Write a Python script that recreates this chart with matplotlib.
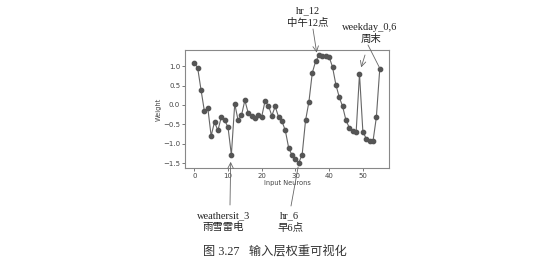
import matplotlib
matplotlib.use("Agg")
import matplotlib.pyplot as plt
import numpy as np

weights = [1.09, 0.96, 0.39, -0.16, -0.07, -0.80, -0.44, -0.66, -0.32, -0.40,
           -0.57, -1.29, 0.03, -0.40, -0.27, 0.12, -0.21, -0.28, -0.33, -0.25,
           -0.30, 0.10, -0.02, -0.28, -0.04, -0.31, -0.42, -0.66, -1.11, -1.30,
           -1.40, -1.49, -1.28, -0.40, 0.08, 0.83, 1.13, 1.28, 1.27, 1.26,
           1.24, 0.98, 0.52, 0.20, -0.04, -0.40, -0.59, -0.67, -0.71, 0.80,
           -0.69, -0.87, -0.94, -0.94, -0.32, 0.92]
neurons = np.arange(len(weights))
xticks = [0, 10, 20, 30, 40, 50]
yticks = [-1.5, -1.0, -0.5, 0.0, 0.5, 1.0]

W, H = 550, 265
fig = plt.figure(figsize=(W / 100, H / 100), dpi=100)
ax = fig.add_axes([185 / W, 1 - 168 / H, (389 - 185) / W, (168 - 50) / H])
ax.plot(neurons, weights, color='#666666', lw=0.8, marker='o', ms=3.1,
        markerfacecolor='#555555', markeredgecolor='#555555')
ax.set_xticks(xticks)
ax.set_yticks(yticks)
ax.tick_params(labelsize=5, length=2, width=0.5, colors='#444444', pad=1.5)
ax.set_xlabel('Input Neurons', fontsize=4.8, color='#444444', labelpad=1)
ax.set_ylabel('Weight', fontsize=4.8, color='#444444', labelpad=1)
for s in ax.spines.values():
    s.set_color('#888888')
    s.set_linewidth(0.8)

tfam = ['Liberation Serif', 'Noto Sans CJK SC']
tc = '#222222'
ac = '#666666'

def txt(x, y, s, size=7.5):
    fig.text(x / W, 1 - y / H, s, ha='center', va='center', fontsize=size,
             family=tfam, color=tc)

def arr(xy, xytext, style='->'):
    ax.annotate('', xy=xy, xycoords='data',
                xytext=(xytext[0], H - xytext[1]), textcoords='figure pixels',
                arrowprops=dict(arrowstyle=style, color=ac, lw=0.6,
                                shrinkA=0, shrinkB=0),
                annotation_clip=False)

txt(308, 11, 'hr_12')
txt(308, 23, '中午12点')
arr((36.3, 1.35), (313, 29))

txt(370, 27, 'weekday_0,6')
txt(371, 39, '周末')
arr((49.5, 0.97), (365, 55))
arr((55, 0.95), (368, 45), style='-')

txt(224, 216, 'weathersit_3')
txt(223, 227, '雨雪雷电')
arr((10.8, -1.47), (230, 205))

txt(290, 216, 'hr_6')
txt(290, 228, '早6点')
arr((30.8, -1.6), (291, 206), style='-')

fig.text(275 / W, 1 - 252 / H, '图 3.27   输入层权重可视化', ha='center',
         va='center', fontsize=8.8, family=tfam, color='#333333')

fig.savefig('out.png', dpi=100)
